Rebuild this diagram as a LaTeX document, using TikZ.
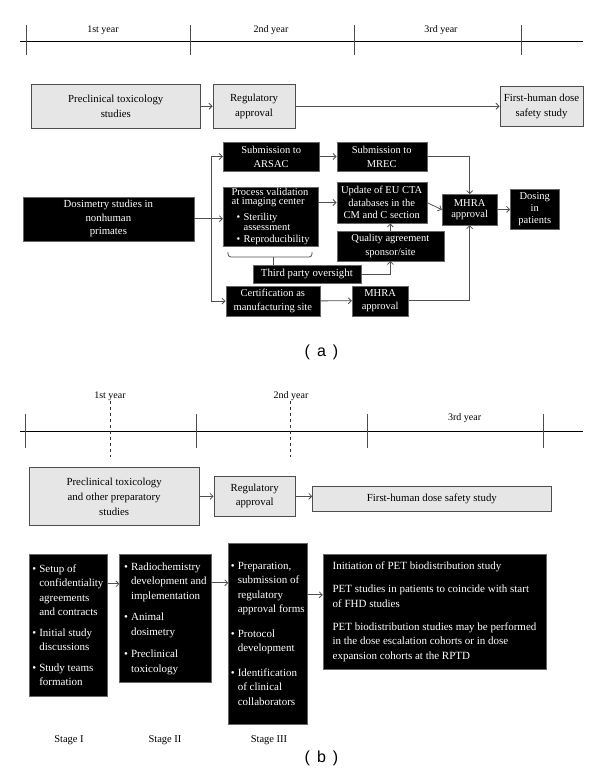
\documentclass[tikz,border=0pt]{standalone}
\usepackage{fontspec}
\setmainfont{Liberation Serif}
\newfontfamily\labfont{Liberation Sans}
\usetikzlibrary{arrows.meta}
\newcommand\bbul{\makebox[7pt][l]{\textbullet}}
\newcommand\bind{\hspace*{7pt}}
\definecolor{lgray}{HTML}{E6E6E6}
\definecolor{bgray}{HTML}{4D4D4D}
\definecolor{cgray}{HTML}{505050}
\begin{document}
\begin{tikzpicture}[x=1pt,y=-1pt,
 gbox/.style={draw=bgray, line width=0.9pt, fill=lgray, align=center, inner sep=1pt, font=\fontsize{10.8}{15}\selectfont},
 kbox/.style={draw=black!60, fill=black, text=white, align=center, inner sep=1pt, font=\fontsize{10.5}{12.5}\selectfont},
 kboxb/.style={draw=black!60, fill=black, text=white, align=left, inner sep=1pt, font=\fontsize{11}{14.5}\selectfont},
 arr/.style={draw=cgray, line width=0.8pt, -{Straight Barb[length=3pt,width=6pt]}},
 conn/.style={draw=cgray, line width=0.8pt},
 tline/.style={draw=black, line width=0.8pt},
 tick/.style={draw=black!70, line width=0.9pt},
 yr/.style={font=\fontsize{10}{12}\selectfont, inner sep=0pt},
 stg/.style={font=\fontsize{10.5}{12}\selectfont, inner sep=0pt},
 sub/.style={font=\labfont\fontsize{16}{18}\selectfont, inner sep=0pt}
]
\fill[white] (0,0) rectangle (600,771);
\useasboundingbox (0,0) rectangle (600,771);

% ---------------- (a) timeline
\draw[tline] (20,41) -- (583,41);
\foreach \x in {26.5,190,354,521} \draw[tick] (\x,25) -- (\x,55);
\node[yr] (ya1) at (103,30) {1st year};
\node[yr] (ya2) at (271,30) {2nd year};
\node[yr] (ya3) at (441,30) {3rd year};

% ---------------- (a) top row
\node[gbox, minimum width=168.5pt, minimum height=44.5pt] (pa1) at (115.75,106.25) {Preclinical toxicology\\studies};
\node[gbox, minimum width=82pt, minimum height=44.5pt] (pa2) at (254,106.25) {Regulatory\\approval};
\node[gbox, minimum width=83pt, minimum height=40.5pt] (pa3) at (541.5,106.25) {First-human dose\\safety study};
\draw[arr] (pa1) -- (pa2);
\draw[arr] (pa2) -- (pa3);

% ---------------- (a) flow
\node[kbox, minimum width=171.3pt, minimum height=44pt, font=\fontsize{10.8}{13.3}\selectfont] (dos) at (108.35,218.7) {Dosimetry studies in\\nonhuman\\primates};
\node[kbox, minimum width=96.3pt, minimum height=29.6pt, font=\fontsize{10.5}{14}\selectfont] (arsac) at (271.15,156.5) {Submission to\\ARSAC};
\node[kbox, minimum width=90pt, minimum height=29.6pt, font=\fontsize{10.5}{14}\selectfont] (mrec) at (381.7,156.5) {Submission to\\MREC};
\node[kbox, minimum width=95pt, minimum height=58.4pt, align=left, font=\fontsize{10.5}{9.5}\selectfont] (proc) at (270.6,216.5) {Process validation\\at imaging center\\[5pt]\hspace*{5pt}\bbul Sterility\\\hspace*{5pt}\bind assessment\\[3pt]\hspace*{5pt}\bbul Reproducibility};
\node[kbox, minimum width=90pt, minimum height=41.6pt] (upd) at (381.7,202.5) {Update of EU CTA\\databases in the\\CM and C section};
\node[kbox, minimum width=107.3pt, minimum height=30pt, font=\fontsize{10.5}{13.7}\selectfont] (qual) at (390.35,245.7) {Quality agreement\\sponsor/site};
\node[kbox, minimum width=108.3pt, minimum height=18.5pt, font=\fontsize{10.8}{12.5}\selectfont] (tpo) at (306.85,274.25) {Third party oversight};
\node[kbox, minimum width=94.3pt, minimum height=30pt, font=\fontsize{10.5}{13.3}\selectfont] (cert) at (272.85,301) {Certification as\\manufacturing site};
\node[kbox, minimum width=56.3pt, minimum height=30pt, font=\fontsize{10.5}{13}\selectfont] (mhra2) at (380.15,300.7) {MHRA\\approval};
\node[kbox, minimum width=55.3pt, minimum height=30.7pt, font=\fontsize{10.5}{11.5}\selectfont] (mhra) at (469.65,209.65) {MHRA\\approval};
\node[kbox, minimum width=49pt, minimum height=40pt, font=\fontsize{10.5}{11.7}\selectfont] (dose) at (534.8,209.3) {Dosing\\in\\patients};

\coordinate (br) at (211,0);
\draw[conn] (arsac.west -| br) -- (cert.west -| br);
\draw[arr] (arsac.west -| br) -- (arsac.west);
\draw[arr] (dos.east) -- (dos.east -| proc.west);
\draw[arr] (cert.west -| br) -- (cert.west);
\draw[arr] (arsac) -- (mrec);
\draw[arr] (mrec.east) -| (mhra.north);
\draw[arr] (proc.east |- upd.west) -- (upd.west);
\draw[arr] (upd.east) -- (mhra.west);
\draw[arr] (mhra) -- (dose);
\draw[arr] (qual.north) -- (qual.north |- upd.south);
\draw[arr] (tpo.east) -| (qual.south);
\draw[arr] (cert) -- (mhra2);
\draw[arr] (mhra2.east) -| (mhra.south);
\draw[conn, rounded corners=3pt] (228,252) -- (228,257) -- (312,257) -- (312,252);
\coordinate (bc) at (273,257);
\draw[conn] (bc) -- (bc |- tpo.north);

\node[sub] (laba) at (321.5,352) {(\hspace{7pt}a\hspace{7pt})};

% ---------------- (b) timeline
\draw[tline] (20,431.5) -- (583,431.5);
\foreach \x in {25.8,196,367,543.5} \draw[tick] (\x,414) -- (\x,448);
\draw[black!80, line width=0.7pt, dashed] (110.4,401) -- (110.4,457);
\draw[black!80, line width=0.7pt, dashed] (290.8,401) -- (290.8,457);
\node[yr] (yb1) at (110,396) {1st year};
\node[yr] (yb2) at (291,396) {2nd year};
\node[yr] (yb3) at (464.6,418) {3rd year};

% ---------------- (b) top row
\node[gbox, minimum width=170.3pt, minimum height=58.4pt] (pb1) at (114.15,496.5) {Preclinical toxicology\\and other preparatory\\studies};
\node[gbox, minimum width=81.3pt, minimum height=39.3pt, font=\fontsize{10.8}{14}\selectfont] (pb2) at (254.65,496.35) {Regulatory\\approval};
\node[gbox, minimum width=238.3pt, minimum height=25pt] (pb3) at (431.85,498.5) {First-human dose safety study};
\draw[arr] (pb1) -- (pb2);
\draw[arr] (pb2.east) -- (pb2.east -| pb3.west);

% ---------------- (b) stages
\node[kboxb, minimum width=78.2pt, minimum height=141.2pt] (s1) at (67.9,625.2) {\bbul Setup of\\\bind confidentiality\\\bind agreements\\\bind and contracts\\[6pt]\bbul Initial study\\\bind discussions\\[6pt]\bbul Study teams\\\bind formation};
\node[kboxb, minimum width=91.4pt, minimum height=127.7pt] (s2) at (165.3,618.45) {\bbul Radiochemistry\\\bind development and\\\bind implementation\\[7pt]\bbul Animal\\\bind dosimetry\\[8pt]\bbul Preclinical\\\bind toxicology};
\node[kboxb, minimum width=78.5pt, minimum height=181.6pt] (s3) at (267.75,633.8) {\bbul Preparation,\\\bind submission of\\\bind regulatory\\\bind approval forms\\[10pt]\bbul Protocol\\\bind development\\[10pt]\bbul Identification\\\bind of clinical\\\bind collaborators};
\node[kboxb, minimum width=223pt, minimum height=114.2pt] (s4) at (434.5,611.7) {Initiation of PET biodistribution study\\[8.5pt]PET studies in patients to coincide with start\\of FHD studies\\[8.5pt]PET biodistribution studies may be performed\\in the dose escalation cohorts or in dose\\expansion cohorts at the RPTD};
\draw[arr] ([yshift=-29.4pt]s1.north east) -- ([yshift=-29.4pt]s1.north east -| s2.west);
\draw[arr] ([yshift=-28.4pt]s2.north east) -- ([yshift=-28.4pt]s2.north east -| s3.west);
\draw[arr] ([yshift=-52pt]s3.north east) -- ([yshift=-52pt]s3.north east -| s4.west);

\node[stg] (st1) at (69,740) {Stage I};
\node[stg] (st2) at (165,740) {Stage II};
\node[stg] (st3) at (269,740) {Stage III};

\node[sub] (labb) at (321.5,758) {(\hspace{7pt}b\hspace{7pt})};
\end{tikzpicture}
\end{document}
